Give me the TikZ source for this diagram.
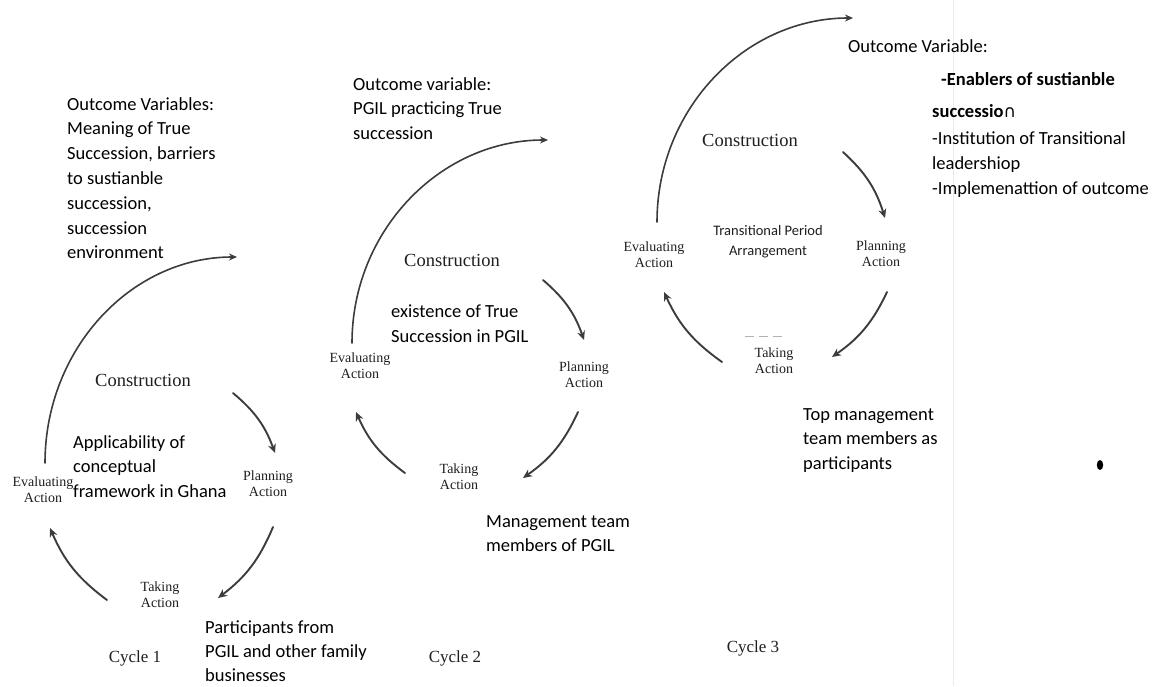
\documentclass[tikz,border=0pt]{standalone}
\usepackage{fontspec}
\setmainfont{Liberation Serif}
\newfontfamily\notefont{Carlito}
\newfontfamily\symfont{DejaVu Sans}
\usetikzlibrary{arrows.meta}
\definecolor{inkgray}{HTML}{3C3C3C}
\definecolor{labelgray}{HTML}{1E1E1E}
\begin{document}
\begin{tikzpicture}[x=1pt,y=-1pt,
  note/.style={font=\notefont\fontsize{18.5}{24.8}\selectfont, align=left,
    anchor=north west, inner sep=0pt, text=black},
  small note/.style={font=\notefont\fontsize{14.5}{20}\selectfont, align=center,
    inner sep=0pt, text=labelgray},
  stage/.style={font=\fontsize{14}{16}\selectfont, align=center, inner sep=0pt,
    text=labelgray},
  phase/.style={font=\fontsize{18.5}{20}\selectfont, inner sep=0pt, text=labelgray},
  cyclelabel/.style={font=\fontsize{17}{20}\selectfont, inner sep=0pt, text=labelgray},
  loop/.style={draw=inkgray, line width=1.9pt, line cap=round,
    -{Stealth[length=9pt,width=8pt]}},
  outcome/.style={draw=inkgray, line width=1.6pt, line cap=round,
    -{Stealth[length=8pt,width=7pt]}}]
\useasboundingbox (0,0) rectangle (1157,686);

% faint page rule
\draw[black!8, line width=0.8pt] (953,0) -- (953,686);

% ---------------- Cycle 1 ----------------
\node[note] (out1) at (67,97) {Outcome Variables:\\Meaning of True\\Succession, barriers\\to sustianble\\succession,\\succession\\environment};
\node[phase] (con1) at (143,380) {Construction};
\node[stage] (plan1) at (268,484) {Planning\\Action};
\node[stage] (take1) at (160,595) {Taking\\Action};
\node[stage] (eval1) at (43,490) {Evaluating\\Action};
\node[note] (app1) at (73,435) {Applicability of\\conceptual\\framework in Ghana};
\node[note, font=\notefont\fontsize{18.5}{24.4}\selectfont] (part1) at (205,620) {Participants from\\PGIL and other family\\businesses};
\node[cyclelabel] (cyc1) at (135,658) {Cycle 1};

\coordinate (c1cs) at (233,393);  \coordinate (c1ce) at (275,453);
\coordinate (c1ps) at (273,527);  \coordinate (c1pe) at (218,598);
\coordinate (c1ts) at (107,600);  \coordinate (c1te) at (50,528);
\coordinate (c1es) at (45,463);   \coordinate (c1oe) at (237,257);
\draw[loop] (c1cs) to[bend left=15] (c1ce);
\draw[loop] (c1ps) to[bend left=15] (c1pe);
\draw[loop] (c1ts) to[bend left=15] (c1te);
\draw[outcome] (c1es) .. controls (45,349) and (131,257) .. (c1oe);

% ---------------- Cycle 2 ----------------
\node[note] (out2) at (353,77) {Outcome variable:\\PGIL practicing True\\succession};
\node[phase] (con2) at (452,260) {Construction};
\node[stage] (plan2) at (584,375) {Planning\\Action};
\node[stage] (take2) at (459,477) {Taking\\Action};
\node[stage] (eval2) at (360,366) {Evaluating\\Action};
\node[note] (ex2) at (391,305) {existence of True\\Succession in PGIL};
\node[note] (man2) at (486,515) {Management team\\members of PGIL};
\node[cyclelabel] (cyc2) at (455,658) {Cycle 2};

\coordinate (c2cs) at (543,280);  \coordinate (c2ce) at (584,340);
\coordinate (c2ps) at (578,412);  \coordinate (c2pe) at (523,478);
\coordinate (c2ts) at (405,473);  \coordinate (c2te) at (356,412);
\coordinate (c2es) at (352,343);  \coordinate (c2oe) at (548,140);
\draw[loop] (c2cs) to[bend left=15] (c2ce);
\draw[loop] (c2ps) to[bend left=15] (c2pe);
\draw[loop] (c2ts) to[bend left=15] (c2te);
\draw[outcome] (c2es) .. controls (352,231) and (440,140) .. (c2oe);

% ---------------- Cycle 3 ----------------
\node[note] (out3) at (848,39) {Outcome Variable:};
\node[note, font=\notefont\bfseries\fontsize{18.5}{24.8}\selectfont] (enab3) at (941,72) {-Enablers of sustianble};
\node[note] (list3) at (932,104) {\textbf{successio}{\symfont\fontsize{17}{20}\selectfont ∩}\\[3pt]-Institution of Transitional\\leadershiop\\-Implemenattion of outcome};
\node[phase] (con3) at (750,140) {Construction};
\node[stage] (plan3) at (881,254) {Planning\\Action};
\node[stage] (take3) at (774,361) {Taking\\Action};
\node[stage] (eval3) at (654,255) {Evaluating\\Action};
\node[small note] (trans3) at (768,242) {Transitional Period\\Arrangement};
\node[note] (top3) at (803,408) {Top management\\team members as\\participants};
\node[cyclelabel] (cyc3) at (753,648) {Cycle 3};
\draw[black!30, line width=1pt, dash pattern=on 9pt off 5pt] (745,336) -- (786,336);

\coordinate (c3cs) at (843,152);  \coordinate (c3ce) at (885,218);
\coordinate (c3ps) at (887,292);  \coordinate (c3pe) at (832,357);
\coordinate (c3ts) at (722,362);  \coordinate (c3te) at (664,292);
\coordinate (c3es) at (657,222);  \coordinate (c3oe) at (853,18);
\draw[loop] (c3cs) to[bend left=15] (c3ce);
\draw[loop] (c3ps) to[bend left=15] (c3pe);
\draw[loop] (c3ts) to[bend left=15] (c3te);
\draw[outcome] (c3es) .. controls (657,109) and (745,18) .. (c3oe);

% stray bullet
\fill[black] (1100,465) ellipse (3.2 and 5);
\end{tikzpicture}
\end{document}
